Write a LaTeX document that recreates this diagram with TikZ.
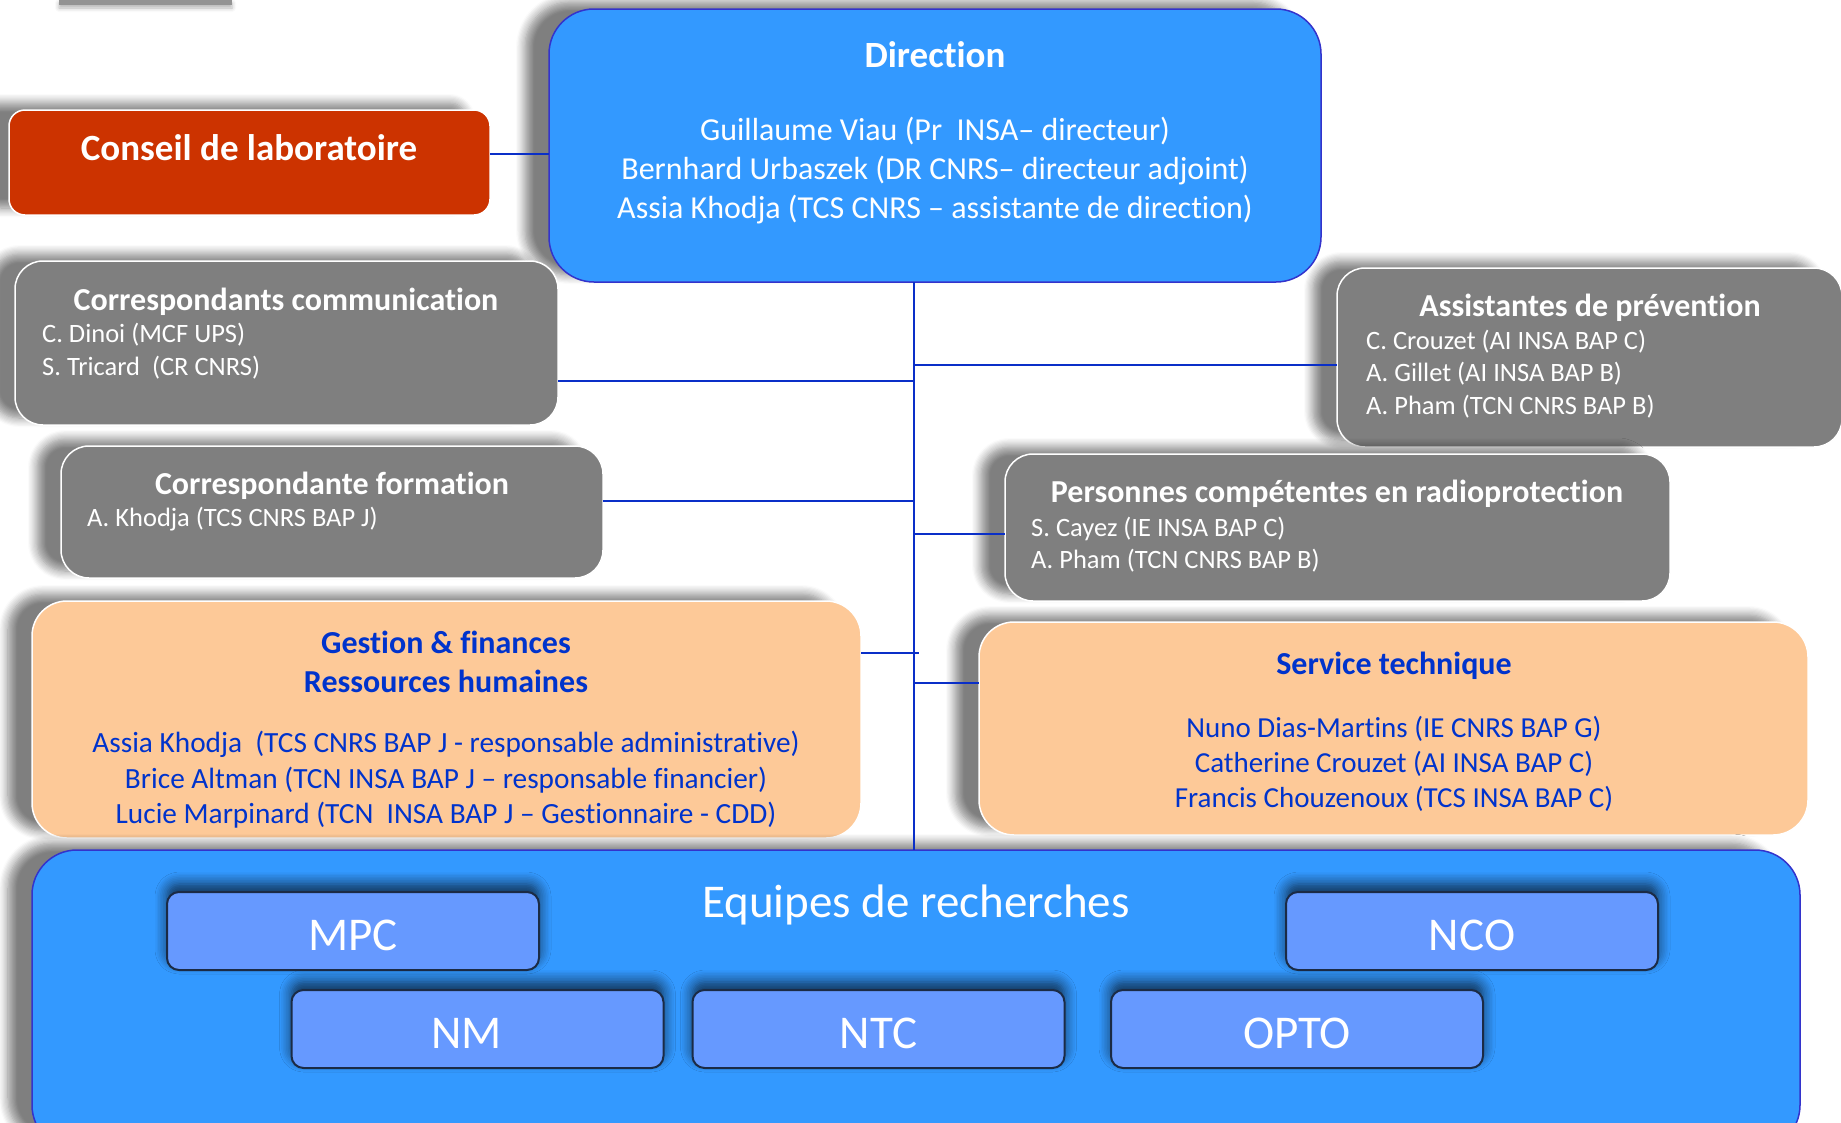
\documentclass[tikz,border=0pt]{standalone}
\usepackage{fontspec}
\setmainfont[Ligatures={NoCommon,NoContextual}]{Carlito}
\usetikzlibrary{shadows.blur}
\definecolor{redc}{HTML}{CC3300}
\definecolor{bluec}{HTML}{3399FF}
\definecolor{bluedraw}{HTML}{3333CC}
\definecolor{grayc}{HTML}{7F7F7F}
\definecolor{orangec}{HTML}{FDC998}
\definecolor{teamc}{HTML}{6699FF}
\definecolor{teamdraw}{HTML}{1B2B45}
\definecolor{linec}{HTML}{0A2FC8}
\definecolor{txtblue}{HTML}{0033CC}
\newcommand{\myfs}[2]{\fontsize{#1pt}{#2pt}\selectfont}
\begin{document}
\begin{tikzpicture}[x=1pt,y=-1pt,
  softshadow/.style={blur shadow={shadow xshift=-24pt, shadow yshift=7pt, shadow blur radius=9pt, shadow opacity=50, shadow blur steps=8}},
  boxbase/.style={inner sep=0pt, outer sep=0pt, line width=1.5pt},
  redbox/.style={boxbase, softshadow, fill=redc, draw=white, rounded corners=16pt},
  dirbox/.style={boxbase, softshadow, fill=bluec, draw=bluedraw, rounded corners=45pt},
  graybox/.style={boxbase, softshadow, fill=grayc, draw=white, rounded corners=28pt},
  orangebox/.style={boxbase, softshadow, fill=orangec, draw=white, rounded corners=35pt},
  teambox/.style={boxbase, blur shadow={shadow xshift=0pt, shadow yshift=8pt, shadow blur radius=12pt, shadow opacity=70, shadow blur steps=8},
     fill=teamc, draw=teamdraw, line width=2pt, rounded corners=12pt,
     minimum width=372pt, minimum height=78pt, text=white, font=\myfs{47}{50},
     text height=38pt, text depth=0pt},
  conn/.style={draw=linec, line width=2pt},
  wt/.style={text=white, inner sep=0pt},
  bt/.style={text=txtblue, inner sep=0pt},
]
\useasboundingbox (0,0) rectangle (1841,1122);

% stray shadow strip at top
\node[boxbase, fill=gray!85, minimum width=173pt, minimum height=5pt,
  blur shadow={shadow xshift=0pt, shadow yshift=-3pt, shadow blur radius=4pt, shadow opacity=30}] (topbar) at (145.5,2.5) {};

% boxes
\node[redbox, minimum width=481pt, minimum height=105pt] (conseil) at (249.5,162.5) {};
\node[dirbox, minimum width=772pt, minimum height=273pt] (direction) at (935,145.5) {};
\node[graybox, minimum width=543pt, minimum height=164pt] (comm) at (286.5,343) {};
\node[graybox, minimum width=542pt, minimum height=132pt] (formation) at (332,512) {};
\node[graybox, minimum width=505pt, minimum height=179pt] (prevention) at (1589.5,357.5) {};
\node[graybox, minimum width=665pt, minimum height=147pt] (radio) at (1337.5,527.5) {};
\node[orangebox, minimum width=829pt, minimum height=237pt] (gestion) at (446.5,719.5) {};
\node[orangebox, minimum width=829pt, minimum height=213pt] (service) at (1393.5,728.5) {};
\node[dirbox, minimum width=1768pt, minimum height=300pt] (equipes) at (916,1000) {};

% teams
\node[teambox] (mpc) at (353,931) {MPC};
\node[teambox] (nco) at (1472,931) {NCO};
\node[teambox] (nm) at (477.5,1029) {NM\hspace*{22pt}};
\node[teambox] (ntc) at (878.5,1029) {NTC};
\node[teambox] (opto) at (1297,1029) {OPTO};

% texts
\node[wt, font=\myfs{37}{44}\bfseries] (conseilT) at (249,148) {Conseil de laboratoire};
\node[wt, font=\myfs{37}{44}\bfseries] (dirT) at (935,55) {Direction};
\node[wt, font=\myfs{32}{39}, align=center] (dirB) at (935,171)
  {Guillaume Viau (Pr\ \ INSA– directeur)\\Bernhard Urbaszek (DR CNRS– directeur adjoint)\\Assia Khodja (TCS CNRS – assistante de direction)};

\node[wt, font=\myfs{32}{39}\bfseries] (commT) at (286,301.5) {Correspondants communication};
\node[wt, font=\myfs{26.5}{33}, align=left, anchor=west] (commB) at (42,351)
  {C. Dinoi (MCF UPS)\\S. Tricard\ \ (CR CNRS)};

\node[wt, font=\myfs{32}{39}\bfseries] (formT) at (332,485.5) {Correspondante formation};
\node[wt, font=\myfs{26.5}{33}, anchor=west] (formB) at (87,519.5) {A. Khodja (TCS CNRS BAP J)};

\node[wt, font=\myfs{32}{39}\bfseries] (prevT) at (1590,308) {Assistantes de prévention};
\node[wt, font=\myfs{26.5}{32.5}, align=left, anchor=west] (prevB) at (1366,374)
  {C. Crouzet (AI INSA BAP C)\\A. Gillet (AI INSA BAP B)\\A. Pham (TCN CNRS BAP B)};

\node[wt, font=\myfs{32}{39}\bfseries] (radioT) at (1337,493.5) {Personnes compétentes en radioprotection};
\node[wt, font=\myfs{26.5}{32}, align=left, anchor=west] (radioB) at (1031,544.5)
  {S. Cayez (IE INSA BAP C)\\A. Pham (TCN CNRS BAP B)};

\node[bt, font=\myfs{32}{39}\bfseries, align=center] (gestT) at (446,662) {Gestion \& finances\\Ressources humaines};
\node[bt, font=\myfs{29.3}{35.5}, align=center] (gestB) at (446,780)
  {Assia Khodja\ \ (TCS CNRS BAP J - responsable administrative)\\Brice Altman (TCN INSA BAP J – responsable financier)\\Lucie Marpinard (TCN\ \ INSA BAP J – Gestionnaire - CDD)};

\node[bt, font=\myfs{32}{39}\bfseries] (servT) at (1394,665.5) {Service technique};
\node[bt, font=\myfs{29}{35}, align=center] (servB) at (1394,763.5)
  {Nuno Dias-Martins (IE CNRS BAP G)\\Catherine Crouzet (AI INSA BAP C)\\Francis Chouzenoux (TCS INSA BAP C)};

\node[wt, font=\myfs{47}{52}, anchor=base] (eqT) at (916,917) {Equipes de recherches};

% connectors
\coordinate (trunk) at (914,0);
\draw[conn] (trunk |- direction.south) -- (trunk |- equipes.north);
\draw[conn] (conseil.east |- 0,154) -- (direction.west |- 0,154);
\draw[conn] (comm.east |- 0,381) -- (trunk |- 0,381);
\draw[conn] (trunk |- 0,365) -- (prevention.west |- 0,365);
\draw[conn] (formation.east |- 0,501) -- (trunk |- 0,501);
\draw[conn] (trunk |- 0,534) -- (radio.west |- 0,534);
\draw[conn] (gestion.east |- 0,653) -- ([xshift=5pt]trunk |- 0,653);
\draw[conn] (trunk |- 0,683) -- (service.west |- 0,683);
\end{tikzpicture}
\end{document}
